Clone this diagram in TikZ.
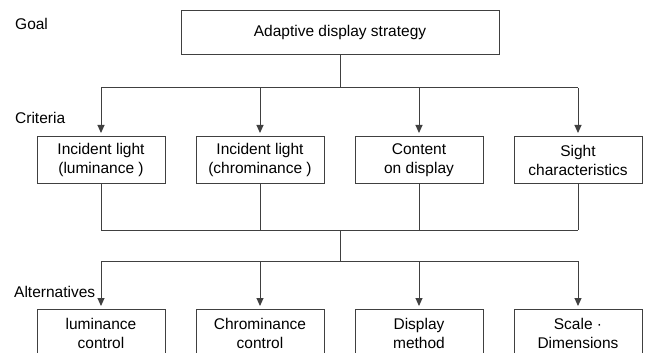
\documentclass[tikz,border=0pt]{standalone}
\usepackage{fontspec}
\setmainfont{Liberation Sans}
\usetikzlibrary{arrows.meta}
\begin{document}
\begin{tikzpicture}[x=1pt,y=-1pt,
  every node/.style={font=\fontsize{15.5}{19}\selectfont, text=black},
  box/.style={draw=black!75, line width=1pt, minimum width=128pt, minimum height=47pt, inner sep=0pt, align=center, anchor=north},
  lbl/.style={anchor=west, inner sep=0pt},
  wire/.style={draw=black!75, line width=1pt},
  arr/.style={wire, -{Triangle[width=7pt,length=8pt]}, shorten >=3pt}]
\useasboundingbox (0,0) rectangle (646,353);
\clip (0,0) rectangle (646,353);
\fill[white] (0,0) rectangle (646,353);

\node[lbl] (goal) at (15,24) {Goal};
\node[lbl] (crit) at (15,118) {Criteria};
\node[lbl] (alt) at (14,292) {Alternatives};

\node[box, minimum width=318pt, minimum height=44pt] (top) at (340,10) {Adaptive display strategy};

\node[box] (c1) at (101,136) {Incident light\\(luminance )};
\node[box] (c2) at (260,136) {Incident light\\(chrominance )};
\node[box] (c3) at (419,136) {Content\\on display};
\node[box] (c4) at (578,136) {Sight\\characteristics};

\node[box] (a1) at (101,309) {luminance\\control};
\node[box] (a2) at (260,309) {Chrominance\\control};
\node[box] (a3) at (419,309) {Display\\method};
\node[box] (a4) at (578,309) {Scale ·\\Dimensions};

\coordinate (b1) at (340,88);
\coordinate (b2) at (340,230);
\coordinate (b3) at (340,261);

\draw[wire] (top.south) -- (b1);
\draw[wire] (c1.north |- b1) -- (c4.north |- b1);
\foreach \n in {c1,c2,c3,c4} \draw[arr] (\n.north |- b1) -- (\n.north);

\foreach \n in {c1,c2,c3,c4} \draw[wire] (\n.south) -- (\n.south |- b2);
\draw[wire] (c1.south |- b2) -- (c4.south |- b2);
\draw[wire] (b2) -- (b3);
\draw[wire] (a1.north |- b3) -- (a4.north |- b3);
\foreach \n in {a1,a2,a3,a4} \draw[arr] (\n.north |- b3) -- (\n.north);
\end{tikzpicture}
\end{document}
